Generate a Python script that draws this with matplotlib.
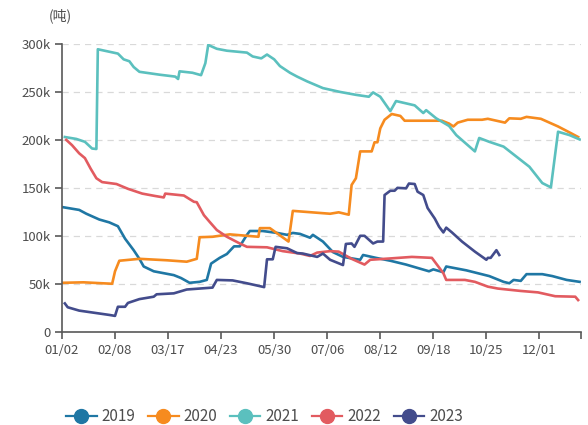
import matplotlib.pyplot as plt
from matplotlib.ticker import FuncFormatter

plt.rcParams['font.family'] = ['Noto Sans CJK SC', 'DejaVu Sans']

# x = days after 01/02, y = thousands of tonnes
tick_labels = ["01/02", "02/08", "03/17", "04/23", "05/30", "07/06",
               "08/12", "09/18", "10/25", "12/01"]
years = ["2019", "2020", "2021", "2022", "2023"]
colors = ["#1f77a4", "#f68b1f", "#5bc0be", "#e25b60", "#434c8c"]

d2019 = [0, 12, 17, 26, 33, 39, 44, 50, 54, 57, 64, 78, 83, 89, 96, 101, 104, 110, 115, 120,
         124, 129, 131, 140, 150, 157, 161, 166, 173, 175, 182, 189, 196, 208, 210, 219, 229, 240, 256, 259,
         266, 268, 282, 298, 308, 312, 315, 320, 324, 335, 342, 352, 361]
v2019 = [130, 127, 123, 117, 114, 110, 97, 85, 76, 68, 63, 59, 56, 51, 52, 54, 71, 77, 81, 89,
         89, 101, 105, 105, 103, 101, 103, 102, 98, 101, 94, 83, 78, 75, 80, 77, 74, 70, 63, 65,
         62, 68, 64, 58, 52, 50.5, 54, 53, 60, 60, 58, 54, 52]

d2020 = [0, 15, 35, 37, 40, 54, 73, 87, 94, 96, 105, 117, 137, 138, 145, 158, 161, 187, 193, 200,
         202, 205, 208, 216, 218, 220, 222, 225, 230, 236, 239, 265, 270, 273, 276, 283, 293, 297, 309, 312,
         320, 324, 334, 340, 346, 355, 360]
v2020 = [51, 51.5, 50, 63, 74, 76, 74.5, 73, 76, 98.5, 99, 101.5, 99, 108, 108, 94, 126, 123, 124.5, 122,
         153, 160, 188, 188, 197.5, 197.5, 212, 221, 227, 225, 220, 220, 217, 214, 218, 221, 221, 222, 218, 222.5,
         222, 224, 222, 218, 214, 207, 203]

d2021 = [2, 10, 16, 21, 24, 25, 39, 43, 47, 50, 54, 68, 79, 81, 82, 91, 97, 100, 102, 108,
         115, 129, 133, 139, 143, 148, 152, 159, 164, 171, 182, 194, 205, 214, 217, 222, 229, 233, 246, 252,
         254, 261, 270, 275, 288, 291, 298, 308, 317, 326, 335, 341, 346, 354, 361]
v2021 = [203, 201, 198, 191, 190.5, 294.5, 290, 284, 282, 276, 271, 268, 266, 263.5, 271.5, 270, 267.5, 280, 299, 295,
         293, 291, 287, 285, 289, 284, 277, 270, 266, 261, 254, 250, 247, 245, 249.5, 245, 230, 240.5, 236, 228,
         231, 222.5, 214.5, 205, 188, 202, 198, 193, 182.5, 172, 155, 150.5, 208.5, 205, 200.5]

d2022 = [3, 7, 12, 16, 20, 24, 28, 38, 46, 56, 65, 71, 72, 85, 92, 94, 99, 103, 108, 115,
         124, 129, 143, 154, 166, 173, 178, 187, 193, 202, 211, 215, 230, 244, 258, 260, 266, 268, 281, 288,
         297, 304, 320, 332, 344, 358, 360]
v2022 = [200, 194.5, 186, 181, 170, 160, 156, 154, 149, 144, 141.5, 140, 144, 142, 135.5, 135, 121.5, 114.5, 106, 99,
         92, 88.5, 88, 84, 81.5, 79, 82.5, 84, 83.5, 76, 70, 75, 76.5, 78, 77, 73, 61, 54, 54, 52,
         47, 45, 42.5, 41, 37, 36.5, 33]

d2023 = [2, 4, 12, 26, 33, 37, 39, 44, 46, 54, 64, 66, 78, 87, 96, 105, 108, 119, 129, 141,
         143, 147, 149, 157, 164, 168, 178, 182, 187, 196, 198, 202, 204, 208, 211, 217, 220, 224, 225, 229,
         232, 234, 240, 242, 246, 248, 252, 255, 260, 263, 266, 268, 272, 279, 288, 296, 297, 299, 303, 305]
v2023 = [29.5, 25.5, 22, 19, 17.5, 16.5, 26, 26, 30, 34, 36.5, 39, 40, 44, 45, 46, 54, 53.5, 50.5, 46.5,
         75.5, 75.5, 88.5, 87, 82, 81.5, 78, 81.5, 75, 69.5, 91.5, 92, 88.5, 100, 100, 92, 94, 94, 142.5, 147,
         147, 150, 149.5, 154.5, 154, 146, 142.5, 129, 118, 109.5, 103.5, 108.5, 103.5, 94, 83.5, 75, 77, 77, 85, 80]

days = [d2019, d2020, d2021, d2022, d2023]
vals = [v2019, v2020, v2021, v2022, v2023]

fig = plt.figure(figsize=(5.88, 4.25), dpi=100)
ax = fig.add_axes([0.1054, 0.2195, 0.8827, 0.677])

for yr, c, d, v in zip(years, colors, days, vals):
    ax.plot(d, v, color=c, lw=1.9, label=yr, solid_joinstyle='round')

ax.set_xlim(0, 362)
ax.set_ylim(0, 300)
ax.set_xticks([37 * i for i in range(len(tick_labels))] + [362])
ax.set_xticklabels(tick_labels + [""])
ax.set_yticks(range(0, 301, 50))
ax.yaxis.set_major_formatter(FuncFormatter(lambda v, p: "0" if v == 0 else f"{int(v)}k"))

ax.grid(axis='y', linestyle=(0, (5, 4)), color='#d9d9d9', lw=0.9)
ax.set_axisbelow(True)
for s in ["top", "right"]:
    ax.spines[s].set_visible(False)
for s in ["left", "bottom"]:
    ax.spines[s].set_color('#595959')
    ax.spines[s].set_linewidth(1.2)
ax.tick_params(axis='both', colors='#595959', labelcolor='#4d4d4d', labelsize=9.5,
               length=5, width=1.2, direction='out')
ax.tick_params(axis='y', pad=3)

fig.text(0.083, 0.963, "(吨)", fontsize=10, color='#4d4d4d', ha='left', va='center')

handles = [plt.Line2D([], [], color=c, lw=1.6, marker='o', markersize=10) for c in colors]
fig.legend(handles, years, loc='center', bbox_to_anchor=(0.45, 0.02), ncol=5,
           frameon=False, fontsize=11, handlelength=2.0, columnspacing=0.8,
           handletextpad=0.35, labelcolor='#4d4d4d')

fig.savefig("out.png", dpi=100)
